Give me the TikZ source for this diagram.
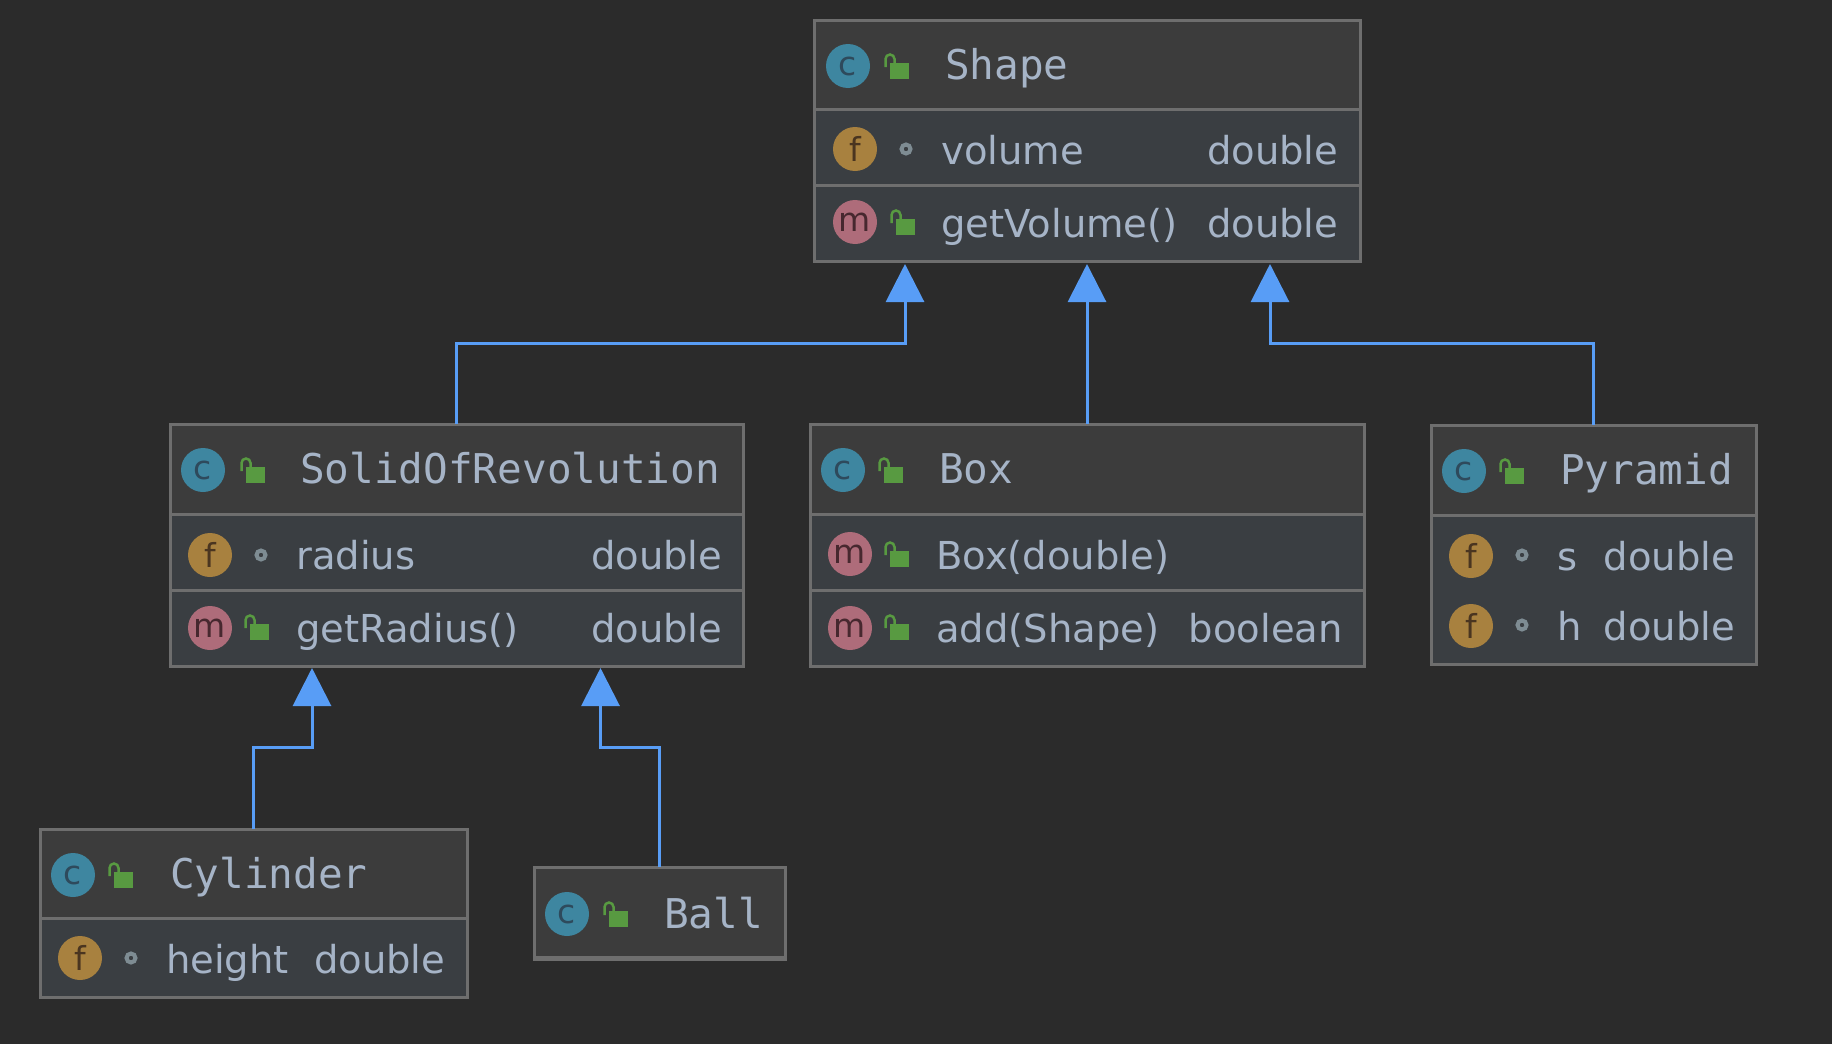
\documentclass[tikz,border=0pt]{standalone}
\usepackage{fontspec}
\setmainfont{DejaVu Sans}
\newfontfamily\codefont{DejaVu Sans Mono}
\usetikzlibrary{arrows.meta}
\definecolor{bgc}{HTML}{2B2B2B}
\definecolor{headc}{HTML}{3C3C3C}
\definecolor{bodyc}{HTML}{3A3E42}
\definecolor{framec}{HTML}{6E6E6E}
\definecolor{textc}{HTML}{A6B4C7}
\definecolor{inhc}{HTML}{589DF6}
\definecolor{cfill}{HTML}{3E86A0}
\definecolor{ffill}{HTML}{A8813F}
\definecolor{mfill}{HTML}{AE6C7A}
\definecolor{cink}{HTML}{2E4A5C}
\definecolor{fink}{HTML}{4A3520}
\definecolor{mink}{HTML}{47282F}
\definecolor{lockc}{HTML}{589A41}
\definecolor{dotc}{HTML}{7E8C93}
\tikzset{
  panel/.style={rectangle,anchor=north west,inner sep=0pt,outer sep=0pt},
  bodypanel/.style={panel,fill=bodyc},
  headpanel/.style={panel,fill=headc},
  framepanel/.style={panel,draw=framec,line width=3pt},
  sepline/.style={draw=framec,line width=3pt},
  titletext/.style={anchor=base west,inner sep=0pt,text=textc,font=\codefont\fontsize{41}{48}\selectfont},
  nametext/.style={anchor=base west,inner sep=0pt,text=textc,font=\fontsize{38.5}{48}\selectfont},
  typetext/.style={anchor=base east,inner sep=0pt,text=textc,font=\fontsize{38.5}{48}\selectfont},
  badge/.style={circle,inner sep=0pt,minimum size=44pt,font=\fontsize{33}{36}\selectfont},
  cbadge/.style={badge,fill=cfill,text=cink},
  fbadge/.style={badge,fill=ffill,text=fink},
  mbadge/.style={badge,fill=mfill,text=mink},
  inherit/.style={draw=inhc,line width=3pt,-{Triangle[length=38pt,width=38pt,fill=inhc]}},
}
% name, x, y, w, h, header height
\newcommand\classbox[6]{%
  \node[bodypanel,minimum width=#4pt,minimum height=#5pt] (#1body) at (#2,#3) {};
  \node[headpanel,minimum width=#4pt,minimum height=#6pt] (#1head) at (#2,#3) {};
  \draw[sepline] (#1head.south west) -- (#1head.south east);
  \node[framepanel,minimum width=#4pt,minimum height=#5pt] (#1) at (#2,#3) {};
}
\newcommand\rowsep[2]{\draw[sepline] (#1.west |- 0,#2) -- (#1.east |- 0,#2);}
% open padlock: x, y of the body's top left corner
\newcommand\openlock[2]{%
  \fill[lockc] (#1,#2) rectangle ++(19,16);
  \draw[lockc,line width=2.5pt] (#1-4.5,#2+4) -- (#1-4.5,#2-4) arc[start angle=180,end angle=360,radius=4.5] -- (#1+4.5,#2);
}
\newcommand\packagedot[2]{\draw[dotc,line width=4pt] (#1,#2) circle[radius=4.5];}
\begin{document}
\begin{tikzpicture}[x=1pt,y=-1pt]
\useasboundingbox (0,0) rectangle (1832,1044);
\fill[bgc] (0,0) rectangle (1832,1044);

% Shape
\classbox{shape}{814}{20}{546}{241}{89}
\rowsep{shape}{185}
\node[cbadge] (shapeC) at (848,66) {c};
\openlock{890}{63}
\node[titletext] (shapeT) at (945,79) {Shape};
\node[fbadge] (shapeF) at (855,149) {f};
\packagedot{906}{149}
\node[nametext] (shapeN1) at (941,164) {volume};
\node[typetext] (shapeV1) at (1338.5,164) {double};
\node[mbadge] (shapeM) at (855,222) {m};
\openlock{896}{219}
\node[nametext] (shapeN2) at (941,237) {getVolume()};
\node[typetext] (shapeV2) at (1338.5,237) {double};

% SolidOfRevolution
\classbox{solid}{170}{424}{573}{242}{90}
\rowsep{solid}{590}
\node[cbadge] (solidC) at (203,470) {c};
\openlock{246}{467}
\node[titletext] (solidT) at (300,483) {SolidOfRevolution};
\node[fbadge] (solidF) at (210,555) {f};
\packagedot{261}{555}
\node[nametext] (solidN1) at (296,569) {radius};
\node[typetext] (solidV1) at (722.5,569) {double};
\node[mbadge] (solidM) at (210,628) {m};
\openlock{250}{624}
\node[nametext] (solidN2) at (296,642) {getRadius()};
\node[typetext] (solidV2) at (722.5,642) {double};

% Box
\classbox{boxc}{810}{424}{554}{242}{90}
\rowsep{boxc}{590}
\node[cbadge] (boxC) at (843,470) {c};
\openlock{884}{467}
\node[titletext] (boxT) at (939,483) {Box};
\node[mbadge] (boxM1) at (850,554) {m};
\openlock{890}{551}
\node[nametext] (boxN1) at (936,569) {Box(double)};
\node[mbadge] (boxM2) at (850,628) {m};
\openlock{890}{624}
\node[nametext] (boxN2) at (936,642) {add(Shape)};
\node[typetext] (boxV2) at (1343,642) {boolean};

% Pyramid
\classbox{pyr}{1431}{425}{325}{239}{90}
\node[cbadge] (pyrC) at (1464,471) {c};
\openlock{1505}{468}
\node[titletext] (pyrT) at (1560,484) {Pyramid};
\node[fbadge] (pyrF1) at (1471,556) {f};
\packagedot{1522}{555}
\node[nametext] (pyrN1) at (1557,570) {s};
\node[typetext] (pyrV1) at (1735,570) {double};
\node[fbadge] (pyrF2) at (1471,626) {f};
\packagedot{1522}{625}
\node[nametext] (pyrN2) at (1557,640) {h};
\node[typetext] (pyrV2) at (1735,640) {double};

% Cylinder
\classbox{cyl}{40}{829}{427}{168}{89}
\node[cbadge] (cylC) at (73,875) {c};
\openlock{114}{872}
\node[titletext] (cylT) at (170,888) {Cylinder};
\node[fbadge] (cylF) at (80,958) {f};
\packagedot{131}{958}
\node[nametext] (cylN) at (166,973) {height};
\node[typetext] (cylV) at (445.5,973) {double};

% Ball
\classbox{ball}{534}{867}{251}{92}{90}
\node[cbadge] (ballC) at (567,914) {c};
\openlock{609}{911}
\node[titletext] (ballT) at (664,928) {Ball};

% Inheritance connectors
\coordinate (shapeA) at (905,264);
\coordinate (shapeB) at (1087,264);
\coordinate (shapeD) at (1270,264);
\coordinate (kneeA) at (905,343);
\coordinate (kneeD) at (1270,343);
\coordinate (solidA) at (312,668);
\coordinate (solidB) at (600.5,668);
\coordinate (kneeE) at (312,747);
\coordinate (kneeF) at (600.5,747);
\coordinate (boxTop) at (1087,424);
\draw[inherit] (solid.north) |- (kneeA) -- (shapeA);
\draw[inherit] (boxTop) -- (shapeB);
\draw[inherit] (pyr.north) |- (kneeD) -- (shapeD);
\draw[inherit] (cyl.north) |- (kneeE) -- (solidA);
\draw[inherit] (ball.north) |- (kneeF) -- (solidB);
\end{tikzpicture}
\end{document}
